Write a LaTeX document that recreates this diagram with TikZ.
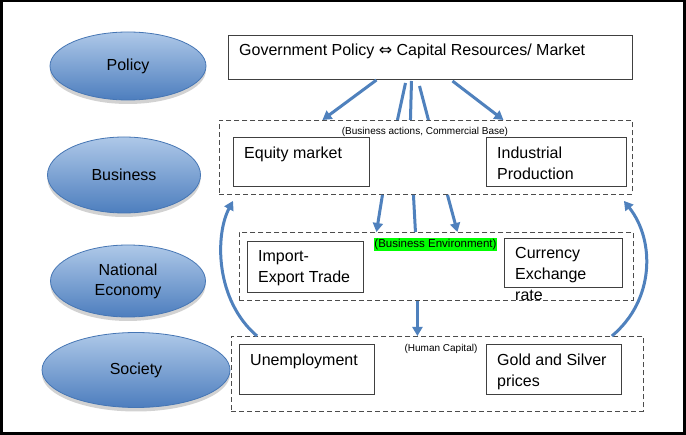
\documentclass[tikz,border=0pt]{standalone}
\usepackage{fontspec}
\setmainfont{Liberation Sans}
\newfontfamily\symfont{DejaVu Sans}
\usetikzlibrary{shapes.geometric,arrows.meta,shadows,positioning}
\definecolor{flowblue}{HTML}{4F81BD}
\definecolor{levtop}{HTML}{AEC8E8}
\definecolor{levbot}{HTML}{4D7EBE}
\definecolor{levline}{HTML}{4676B4}
\definecolor{envgreen}{HTML}{00FF00}

\begin{document}
\begin{tikzpicture}[x=1pt, y=-1pt,
    level/.style={ellipse, draw=levline, line width=.8pt,%
      top color=levtop, bottom color=levbot,%
      drop shadow={shadow xshift=0pt, shadow yshift=-4pt, opacity=.35},%
      inner sep=0, align=center, font=\fontsize{16}{20}\selectfont},
    item/.style={draw=black!75, line width=1pt, anchor=north west, inner sep=0},
    itemtext/.style={anchor=north west, inner sep=0, align=left,%
      font=\fontsize{16}{21}\selectfont},
    group/.style={draw=black!70, line width=.9pt, dash pattern=on 5pt off 3pt,%
      anchor=north west, inner sep=0},
    note/.style={inner sep=0, font=\fontsize{10}{12}\selectfont},
    flow/.style={draw=flowblue, line width=3pt, -{Triangle[length=9pt,width=10pt]}},
    link/.style={draw=flowblue, line width=3pt}
  ]
  % frame
  \fill[black] (0,0) rectangle (686,435);
  \fill[white] (2.5,2.5) rectangle (683,432);
  \useasboundingbox (0,0) rectangle (686,435);

  % levels
  \node[level, minimum width=156, minimum height=68] (policy) at (128,66) {Policy};
  \node[level, minimum width=153, minimum height=76] (business) at (124,175) {Business};
  \node[level, minimum width=155, minimum height=72] (economy) at (128,281) {National\\Economy};
  \node[level, minimum width=188, minimum height=75] (society) at (136,370) {Society};

  % groups
  \node[group, minimum width=413, minimum height=74] (bizgrp) at (219,120) {};
  \node[group, minimum width=394, minimum height=68] (natgrp) at (239,232) {};
  \node[group, minimum width=412, minimum height=75] (socgrp) at (231,336) {};
  \node[note] (biznote) at (425,131.5) {(Business actions, Commercial Base)};
  \node[note, fill=envgreen, font=\fontsize{11.5}{13}\selectfont,%
    inner xsep=.5pt, inner ysep=1pt] (natnote) at (435.5,244.5) {(Business Environment)};
  \node[note] (socnote) at (441,349) {(Human Capital)};

  % boxes
  \node[item, minimum width=404, minimum height=44] (gov) at (228,35) {};
  \node[itemtext] (govtxt) at ([shift={(11,9)}]gov.north west)
    {Government Policy {\symfont ⇔} Capital Resources/ Market};
  \foreach \name/\x/\y/\w/\h/\txt in {equity/233/137/136/49/{Equity market},
      industry/486/137/140/49/{Industrial\\Production},
      trade/247/241/116/51/{Import-\\Export Trade},
      currency/504/238/118/49/{Currency\\Exchange\\rate},
      jobs/239/344/135/50/{Unemployment},
      gold/486/344/135/50/{Gold and Silver\\prices}} {
    \node[item, minimum width=\w, minimum height=\h] (\name) at (\x,\y) {};
    \node[itemtext] (\name txt) at ([shift={(11,9.5)}]\name.north west) {\txt};
  }

  % connectors
  \foreach \a/\d/\b/\kind in {-54/0/-103.5/flow, -25/3/-28.5/link,
      -19/1/-15.5/link, -11/6/2.5/link, 22/1/77.5/flow}
    \draw[\kind] ([shift={(\a,\d)}]gov.south) -- ([xshift=\b]bizgrp.north);
  \foreach \a/\b/\kind in {-43.5/-60/flow, -12.5/-21/link, 21.5/21/flow}
    \draw[\kind] ([xshift=\a]bizgrp.south) -- ([xshift=\b]natgrp.north);
  \draw[flow] ([xshift=-19]natgrp.south) -- ([xshift=-20]socgrp.north);
  \draw[flow] ([shift={(26,0)}]socgrp.north west) .. controls (215,300) and (215,235)
    .. ([shift={(14,6)}]bizgrp.south west);
  \draw[flow] ([shift={(-32,0)}]socgrp.north east) .. controls (655,300) and (655,240)
    .. ([shift={(-9,6)}]bizgrp.south east);
\end{tikzpicture}
\end{document}
